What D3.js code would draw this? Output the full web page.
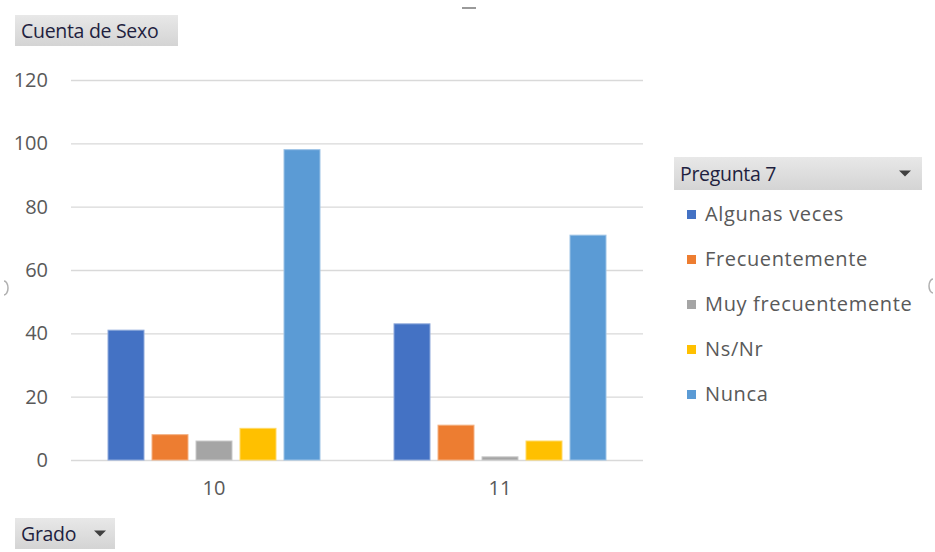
<!DOCTYPE html>
<html>
<head>
<meta charset="utf-8">
<script src="https://cdn.jsdelivr.net/npm/d3@7"></script>
<style>
  html, body { margin: 0; padding: 0; background: #fff; }
  svg { display: block; font-family: "Open Sans", "Noto Sans", sans-serif; }
</style>
</head>
<body>
<svg id="chart" width="935" height="552"></svg>
<script>
// Conteo por grado y respuesta a la pregunta 7
const grados = ["10", "11"];
const respuestas = ["Algunas veces", "Frecuentemente", "Muy frecuentemente", "Ns/Nr", "Nunca"];
const algunasVeces = [41, 43];
const frecuentemente = [8, 11];
const muyFrecuentemente = [6, 1];
const nsNr = [10, 6];
const nunca = [98, 71];
const yTicks = [0, 20, 40, 60, 80, 100, 120];
const colores = ["#4472C4", "#ED7D31", "#A5A5A5", "#FFC000", "#5B9BD5"];
const bordes = ["#8FAADC", "#F4B183", "#C9C9C9", "#FFD966", "#9DC3E6"];

const serieValores = [algunasVeces, frecuentemente, muyFrecuentemente, nsNr, nunca];
const filas = grados.map((g, i) => ({
  grado: g,
  valores: respuestas.map((r, j) => ({ serie: r, idx: j, valor: serieValores[j][i] }))
}));

const svg = d3.select("#chart");
const plot = { left: 71, right: 643, top: 80, bottom: 460 };

const x0 = d3.scaleBand().domain(grados).range([plot.left, plot.right]).paddingInner(0).paddingOuter(0);
const x1 = d3.scaleBand().domain(respuestas).range([37, 249]).paddingInner(8 / 44).paddingOuter(0);
const y = d3.scaleLinear().domain([0, 120]).range([plot.bottom, plot.top]);

// Líneas de cuadrícula
svg.append("g")
  .selectAll("line")
  .data(yTicks)
  .join("line")
  .attr("x1", plot.left)
  .attr("x2", plot.right)
  .attr("y1", d => y(d) + 0.5)
  .attr("y2", d => y(d) + 0.5)
  .attr("stroke", "#D9D9D9")
  .attr("stroke-width", 1.3);

// Eje Y
const yAxis = svg.append("g")
  .attr("transform", `translate(${plot.left - 23},0)`)
  .call(d3.axisLeft(y).tickValues(yTicks).tickSize(0).tickPadding(0));
yAxis.select(".domain").remove();
yAxis.selectAll("text")
  .attr("fill", "#595959")
  .style("font-size", "20px")
  .style("font-family", "'Open Sans', sans-serif");

// Eje X
const xAxis = svg.append("g")
  .attr("transform", `translate(0,${plot.bottom})`)
  .call(d3.axisBottom(x0).tickSize(0).tickPadding(21));
xAxis.select(".domain").remove();
xAxis.selectAll("text")
  .attr("fill", "#595959")
  .style("font-size", "20px")
  .style("font-family", "'Open Sans', sans-serif");

// Barras agrupadas
svg.append("g")
  .selectAll("g")
  .data(filas)
  .join("g")
  .attr("transform", d => `translate(${x0(d.grado)},0)`)
  .selectAll("rect")
  .data(d => d.valores)
  .join("rect")
  .attr("x", d => x1(d.serie))
  .attr("width", x1.bandwidth())
  .attr("y", d => y(d.valor))
  .attr("height", d => y(0) - y(d.valor))
  .attr("fill", d => colores[d.idx])
  .attr("stroke", d => bordes[d.idx])
  .attr("stroke-width", 1);

// Botones de campo de la tabla dinámica
const grad = svg.append("defs").append("linearGradient")
  .attr("id", "btn").attr("x1", 0).attr("y1", 0).attr("x2", 0).attr("y2", 1);
grad.append("stop").attr("offset", "0%").attr("stop-color", "#E8E8E8");
grad.append("stop").attr("offset", "100%").attr("stop-color", "#D4D4D4");

function boton(x, yy, w, h, texto, flecha) {
  const g = svg.append("g");
  g.append("rect").attr("x", x).attr("y", yy).attr("width", w).attr("height", h)
    .attr("fill", "url(#btn)");
  g.append("text").attr("x", x + 6).attr("y", yy + h / 2 + 7)
    .attr("fill", "#1F1F3F")
    .style("font-size", "19.5px")
    .style("letter-spacing", "-0.3px")
    .text(texto);
  if (flecha !== null) {
    g.append("path")
      .attr("d", `M${flecha - 6},${yy + h / 2 - 3}L${flecha + 6},${yy + h / 2 - 3}L${flecha},${yy + h / 2 + 3}Z`)
      .attr("fill", "#404040");
  }
}
boton(15, 15, 163, 31, "Cuenta de Sexo", null);
boton(674, 157, 248, 33, "Pregunta 7", 905);
boton(15, 518, 100, 31, "Grado", 100);

// Leyenda
const leyenda = svg.append("g")
  .selectAll("g")
  .data(respuestas)
  .join("g")
  .attr("transform", (d, i) => `translate(687,${214 + i * 45})`);
leyenda.append("rect").attr("x", 0).attr("y", -4).attr("width", 9).attr("height", 9)
  .attr("fill", (d, i) => colores[i]);
leyenda.append("text").attr("x", 18).attr("y", 7)
  .attr("fill", "#595959")
  .style("font-size", "20px")
  .style("letter-spacing", "0.65px")
  .text(d => d);

// Marcas de selección del área del gráfico
svg.append("rect").attr("x", 462).attr("y", 7).attr("width", 14).attr("height", 2).attr("fill", "#9A9A9A");
svg.append("path").attr("d", "M4,281 A4,7 0 0 1 4,295").attr("fill", "none").attr("stroke", "#B0B0B0").attr("stroke-width", 1.5);
svg.append("path").attr("d", "M933,279 A4,7 0 0 0 933,293").attr("fill", "none").attr("stroke", "#B0B0B0").attr("stroke-width", 1.5);
</script>
</body>
</html>
